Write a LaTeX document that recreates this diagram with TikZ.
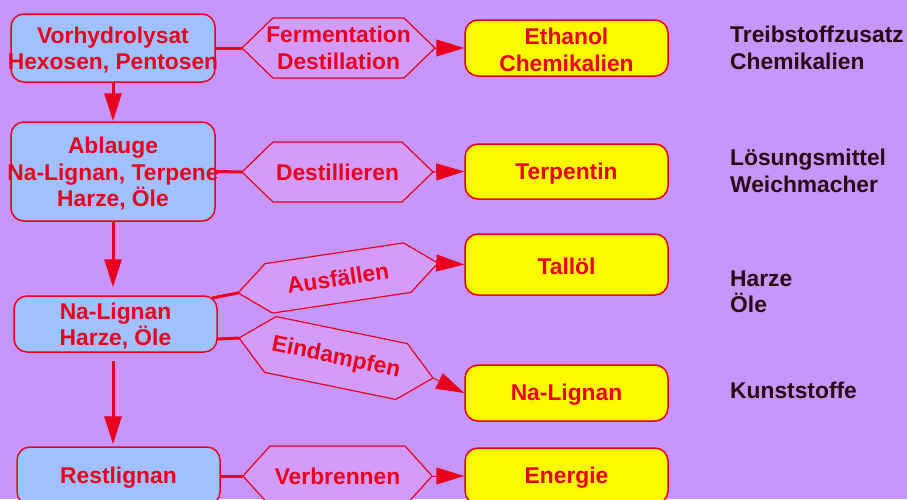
\documentclass[tikz,border=0pt]{standalone}
\usepackage{fontspec}
\setmainfont{Liberation Sans}
\usetikzlibrary{arrows.meta,calc}
\definecolor{bgc}{HTML}{C896FA}
\definecolor{hexc}{HTML}{D49CFA}
\definecolor{bluec}{HTML}{A0C0FF}
\definecolor{yelc}{HTML}{FAFA00}
\definecolor{redc}{HTML}{E8001E}
\definecolor{darkc}{HTML}{2A0814}
\newcommand{\zw}[1]{\raisebox{-2pt}[\height][\depth]{\makebox[0pt]{#1}}}
\newcommand{\bigfont}{\bfseries\fontsize{22.8}{26.5}\selectfont}
% #1 name, #2 centre, #3 angle, #4 half width, #5 half height, #6 point depth, #7 text
\newcommand{\hexa}[7]{%
  \begin{scope}[shift={#2}, rotate=#3]
    \draw[hexline] (-#4,0) coordinate (#1-w) -- (-#4+#6,#5) -- (#4-#6,#5)
      -- (#4,0) coordinate (#1-e) -- (#4-#6,-#5) -- (-#4+#6,-#5) -- cycle;
    \node[hextext, rotate=#3] (#1) at (0,0) {#7};
  \end{scope}}
\begin{document}
\begin{tikzpicture}[x=1pt, y=-1pt,
  box/.style={draw=redc, line width=1.5pt, rounded corners=13pt, minimum width=203pt,
    inner sep=0pt, align=center, text=redc, font=\bigfont},
  bluebox/.style={box, fill=bluec},
  yelbox/.style={box, fill=yelc},
  hexline/.style={draw=redc, line width=1.2pt, fill=hexc},
  hextext/.style={text=redc, font=\bigfont, align=center, inner sep=0pt},
  conn/.style={draw=redc, line width=3pt},
  down/.style={conn, -{Triangle[length=28pt,width=17pt]}},
  tipar/.style={draw=redc, line width=1pt, -{Triangle[length=28pt,width=17pt]}},
  note/.style={text=darkc, font=\bigfont, align=left, anchor=west, inner sep=0pt}]
\fill[bgc] (0,0) rectangle (907,499);
\useasboundingbox (0,0) rectangle (907,499);

% source boxes
\node[bluebox, minimum width=204pt, minimum height=68pt] (b1) at (113,48)
  {\zw{Vorhydrolysat}\\\zw{Hexosen, Pentosen}};
\node[bluebox, minimum width=204pt, minimum height=99pt] (b2) at (113,171.5)
  {\zw{Ablauge}\\\zw{Na-Lignan, Terpene}\\\zw{Harze, Öle}};
\node[bluebox, minimum height=56pt] (b3) at (115.5,324)
  {\zw{Na-Lignan}\\\zw{Harze, Öle}};
\node[bluebox, minimum height=58pt] (b4) at (118.5,476) {\zw{Restlignan}};

% product boxes
\node[yelbox, minimum height=56pt] (y1) at (566.5,48) {\zw{Ethanol}\\\zw{Chemikalien}};
\node[yelbox, minimum height=55pt] (y2) at (566.5,171.5) {\zw{Terpentin}};
\node[yelbox, minimum height=61pt] (y3) at (566.5,264.5) {\zw{Tallöl}};
\node[yelbox, minimum height=56pt] (y4) at (566.5,393) {\zw{Na-Lignan}};
\node[yelbox, minimum height=56pt] (y5) at (566.5,476) {\zw{Energie}};

% process hexagons
\hexa{h1}{(338.5,48)}{0}{96.5}{30}{31}{Fermentation\\Destillation}
\hexa{h2}{(337.5,172)}{0}{95.5}{30}{31}{Destillieren}
\hexa{h3}{(338,278)}{8.5}{101}{25}{31}{Ausfällen}
\hexa{h4}{(336,358)}{-11.65}{99}{28.5}{32}{Eindampfen}
\hexa{h5}{(337.5,476)}{0}{94.5}{30}{27}{Verbrennen}

% connectors box -> process
\coordinate (b3a) at (212,298);
\coordinate (b3b) at (217,339);
\draw[conn] (b1.east) -- (h1-w);
\draw[conn] (b2.east) -- (h2-w);
\draw[conn] (b3a) -- (h3-w);
\draw[conn] (b3b) -- (h4-w);
\draw[conn] (b4.east) -- (h5-w);

% process -> product
\draw[tipar] (h1-e) -- (y1.west);
\draw[tipar] (h2-e) -- (y2.west);
\draw[tipar] (h3-e) -- (y3.west);
\draw[tipar] (h4-e) -- (y4.west);
\draw[tipar] (h5-e) -- (y5.west);

% vertical flow
\draw[down] (b1.south) -- (b2.north);
\draw[down, shorten >=8pt] (b2.south) -- (b2.south |- b3.north);
\draw[down, shorten <=8pt, shorten >=2pt] (b2.south |- b3.south) -- (b2.south |- b4.north);

% uses
\node[note] (u1) at (730,48) {Treibstoffzusatz\\Chemikalien};
\node[note] (u2) at (730,171) {Lösungsmittel\\Weichmacher};
\node[note] (u3) at (730,292) {Harze\\Öle};
\node[note] (u4) at (730,390) {Kunststoffe};
\end{tikzpicture}
\end{document}
